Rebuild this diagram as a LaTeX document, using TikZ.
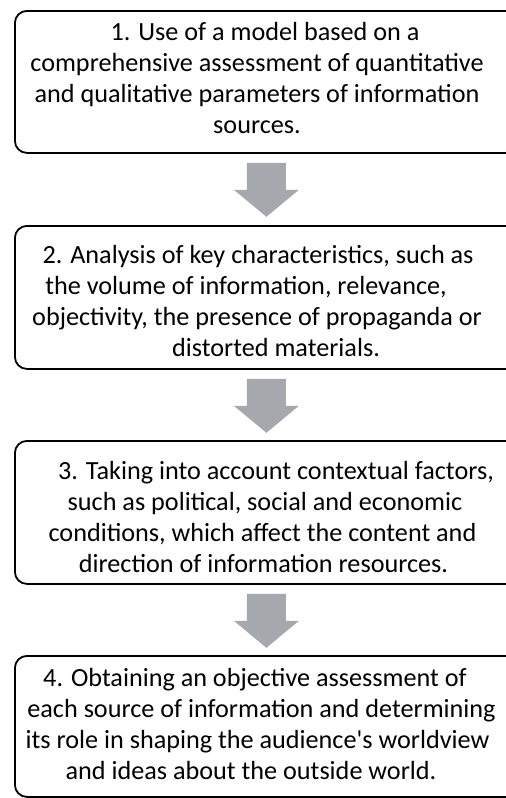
\documentclass[tikz,border=0pt]{standalone}
\usepackage{fontspec}
\newfontfamily\boxfont{Carlito}
\usetikzlibrary{calc}
\definecolor{arrowgray}{RGB}{165,168,173}
\newcommand{\lsh}[1]{\hspace*{#1pt}}
\tikzset{
  stepbox/.style={draw=black, line width=1.8pt, rounded corners=12pt, fill=white,
    minimum width=503pt, anchor=north west, inner sep=0pt},
  steptext/.style={align=center, font=\boxfont\fontsize{26.2}{31}\selectfont, inner sep=0pt},
  blockarrow/.style={fill=arrowgray, draw=none}
}
\begin{document}
\begin{tikzpicture}[x=1pt,y=-1pt]
\useasboundingbox (0,0) rectangle (506,798);
\clip (0,0) rectangle (506,798);
\node[stepbox, minimum height=142pt] (b1) at (14,10) {};
\node[stepbox, minimum height=143pt] (b2) at (14,225) {};
\node[stepbox, minimum height=143pt] (b3) at (14,440) {};
\node[stepbox, minimum height=141pt] (b4) at (14,655) {};
\node[steptext] (t1) at (257,78) {\lsh{16}1. Use of a model based on a\\comprehensive assessment of quantitative\\and qualitative parameters of information\\sources.};
\node[steptext] (t2) at (257,301) {\lsh{2}2. Analysis of key characteristics, such as\\\lsh{-22}the volume of information, relevance,\\objectivity, the presence of propaganda or\\\lsh{38}distorted materials.};
\node[steptext] (t3) at (257,516.5) {\lsh{38}3. Taking into account contextual factors,\\\lsh{16}such as political, social and economic\\\lsh{11}conditions, which affect the content and\\\lsh{13}direction of information resources.};
\node[steptext] (t4) at (257,723.5) {\lsh{-4}4. Obtaining an objective assessment of\\\lsh{9}each source of information and determining\\\lsh{1}its role in shaping the audience's worldview\\\lsh{-12}and ideas about the outside world.};
\foreach \bx in {b1,b2,b3}{
  \fill[blockarrow, shift={(\bx.south)}] (-19.5,9) -- (19.5,9) -- (19.5,36) -- (32.5,36) -- (0,63) -- (-32.5,36) -- (-19.5,36) -- cycle;
}
\end{tikzpicture}
\end{document}
